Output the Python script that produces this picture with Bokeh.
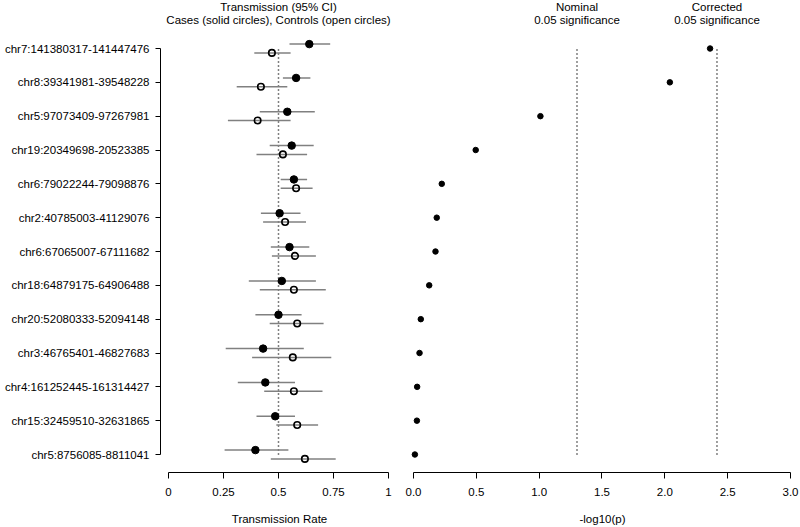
from bokeh.plotting import figure
from bokeh.layouts import row
from bokeh.models import Range1d, FixedTicker, NumeralTickFormatter
from bokeh.core.properties import value
from bokeh.embed import file_html
from bokeh.resources import INLINE
import math

# ---------------- data ----------------
regions = ["chr7:141380317-141447476", "chr8:39341981-39548228", "chr5:97073409-97267981",
           "chr19:20349698-20523385", "chr6:79022244-79098876", "chr2:40785003-41129076",
           "chr6:67065007-67111682", "chr18:64879175-64906488", "chr20:52080333-52094148",
           "chr3:46765401-46827683", "chr4:161252445-161314427", "chr15:32459510-32631865",
           "chr5:8756085-8811041"]
case_est = [0.64, 0.58, 0.54, 0.56, 0.57, 0.505, 0.55, 0.515, 0.50, 0.43, 0.44, 0.485, 0.395]
case_lo = [0.55, 0.52, 0.415, 0.46, 0.51, 0.42, 0.465, 0.365, 0.395, 0.26, 0.315, 0.40, 0.255]
case_hi = [0.735, 0.645, 0.665, 0.66, 0.63, 0.60, 0.64, 0.67, 0.605, 0.615, 0.575, 0.575, 0.545]
ctrl_est = [0.47, 0.42, 0.405, 0.52, 0.58, 0.53, 0.575, 0.57, 0.585, 0.565, 0.57, 0.585, 0.62]
ctrl_lo = [0.39, 0.31, 0.27, 0.40, 0.51, 0.43, 0.47, 0.415, 0.46, 0.38, 0.435, 0.49, 0.465]
ctrl_hi = [0.555, 0.54, 0.555, 0.63, 0.655, 0.625, 0.67, 0.715, 0.705, 0.74, 0.70, 0.68, 0.76]
neglog10p = [2.36, 2.04, 1.01, 0.495, 0.225, 0.185, 0.175, 0.125, 0.058, 0.048, 0.029, 0.027, 0.011]

null_rate = 0.5
alpha = 0.05
rate_ticks = [0, 0.25, 0.5, 0.75, 1]
p_ticks = [0, 0.5, 1.0, 1.5, 2.0, 2.5, 3.0]

nominal = -math.log10(alpha)
corrected = -math.log10(alpha / len(regions))

# ---------------- layout helpers ----------------
FONT = "Liberation Sans"
FS = "11.5px"
n = len(regions)
ypos = [n - 1 - i for i in range(n)]
off = 0.13
y_case = [y + off for y in ypos]
y_ctrl = [y - off for y in ypos]
y_range_start, y_range_end = -0.532, 13.419
title_y1 = (n - 1) + 1.24
title_y2 = (n - 1) + 0.83
GREY = "#808080"


def style(p):
    p.outline_line_color = None
    p.xgrid.visible = False
    p.ygrid.visible = False
    p.background_fill_color = "white"
    p.border_fill_color = "white"
    for ax in p.xaxis:
        ax.axis_line_color = "black"
        ax.axis_line_width = 1
        ax.major_tick_line_color = "black"
        ax.major_tick_out = 6
        ax.major_tick_in = 0
        ax.minor_tick_out = 0
        ax.minor_tick_in = 0
        ax.major_label_text_font = FONT
        ax.major_label_text_font_size = FS
        ax.major_label_text_color = "black"
        ax.major_label_standoff = 9
        ax.axis_label_text_font = FONT
        ax.axis_label_text_font_size = FS
        ax.axis_label_text_font_style = "normal"
        ax.axis_label_text_color = "black"
        ax.axis_label_standoff = 14


def titles(p, x, lines):
    p.text(x=[x, x], y=[title_y1, title_y2], text=lines, text_align="center",
           text_baseline="middle", text_font=value(FONT), text_font_size=FS,
           text_color="black")


# ---------------- left panel ----------------
left = figure(width=398, height=527, x_range=Range1d(-0.0364, 1.0455),
              y_range=Range1d(y_range_start, y_range_end), output_backend="svg",
              toolbar_location=None, min_border_left=160, min_border_right=0,
              min_border_top=0, min_border_bottom=55)
style(left)
left.xaxis.ticker = FixedTicker(ticks=rate_ticks)
left.xaxis.bounds = (rate_ticks[0], rate_ticks[-1])
left.xaxis.axis_label = "Transmission Rate"

yax = left.yaxis[0]
yax.ticker = FixedTicker(ticks=ypos)
yax.major_label_overrides = {y: lab for y, lab in zip(ypos, regions)}
yax.bounds = (min(ypos), max(ypos))
yax.axis_line_color = "black"
yax.major_tick_out = 5
yax.major_tick_in = 0
yax.minor_tick_out = 0
yax.minor_tick_in = 0
yax.major_label_standoff = 6
yax.major_label_text_font = FONT
yax.major_label_text_font_size = FS
yax.major_label_text_color = "black"

left.segment(x0=[null_rate], y0=[min(ypos)], x1=[null_rate], y1=[max(ypos)],
             line_color="black", line_width=1.5, line_dash="1 3")
left.segment(x0=case_lo, y0=y_case, x1=case_hi, y1=y_case, line_color=GREY, line_width=1.5)
left.segment(x0=ctrl_lo, y0=y_ctrl, x1=ctrl_hi, y1=y_ctrl, line_color=GREY, line_width=1.5)
left.scatter(x=case_est, y=y_case, marker="circle", size=7.5, fill_color="black",
             line_color="black")
left.scatter(x=ctrl_est, y=y_ctrl, marker="circle", size=6.5, fill_color=None,
             line_color="black", line_width=1.6)
titles(left, null_rate, ["Transmission (95% CI)",
                         "Cases (solid circles), Controls (open circles)"])

# ---------------- right panel ----------------
right = figure(width=402, height=527, x_range=Range1d(-0.0716, 3.0796),
               y_range=Range1d(y_range_start, y_range_end), output_backend="svg",
               toolbar_location=None, y_axis_location=None, min_border_left=6,
               min_border_right=0, min_border_top=0, min_border_bottom=55)
style(right)
right.xaxis.ticker = FixedTicker(ticks=p_ticks)
right.xaxis.bounds = (p_ticks[0], p_ticks[-1])
right.xaxis.formatter = NumeralTickFormatter(format="0.0")
right.xaxis.axis_label = "-log10(p)"

for thr in (nominal, corrected):
    right.segment(x0=[thr], y0=[min(ypos)], x1=[thr], y1=[max(ypos)],
                  line_color="black", line_width=1.5, line_dash="1 3")
right.scatter(x=neglog10p, y=ypos, marker="circle", size=5.5, fill_color="black",
              line_color="black")
titles(right, nominal, ["Nominal", "0.05 significance"])
titles(right, corrected, ["Corrected", "0.05 significance"])

layout = row(left, right)
open("out.html", "w").write(file_html(layout, INLINE))
